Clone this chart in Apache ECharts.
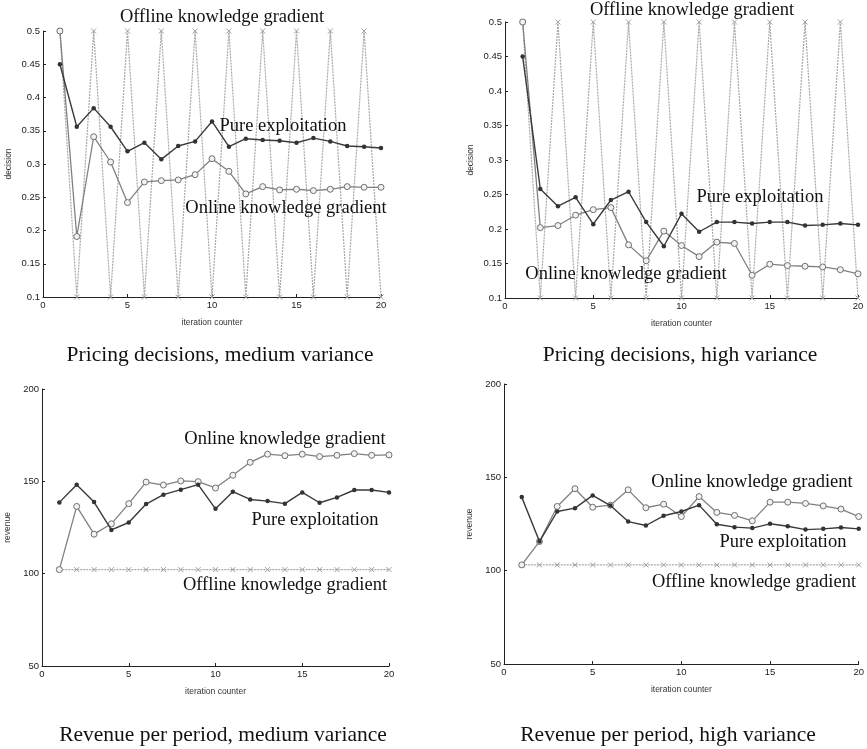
<!DOCTYPE html>
<html>
<head>
<meta charset="utf-8">
<script src="https://cdn.jsdelivr.net/npm/echarts@6/dist/echarts.min.js"></script>
<style>
  html, body { margin: 0; padding: 0; background: #fff; }
  #chart { width: 867px; height: 749px; }
</style>
</head>
<body>
<div id="chart"></div>
<script>
// Iteration counter values shared by every panel
const iterations = [1,2,3,4,5,6,7,8,9,10,11,12,13,14,15,16,17,18,19,20];

// Pricing decisions, medium variance
const priceMedPure    = [0.45,0.356,0.384,0.356,0.319,0.332,0.307,0.327,0.334,0.364,0.326,0.338,0.336,0.335,0.332,0.339,0.334,0.327,0.326,0.324];
const priceMedOnline  = [0.5,0.191,0.341,0.303,0.242,0.273,0.275,0.276,0.284,0.308,0.289,0.255,0.266,0.261,0.262,0.26,0.262,0.266,0.265,0.265];
const priceMedOffline = [0.5,0.1,0.5,0.1,0.5,0.1,0.5,0.1,0.5,0.1,0.5,0.1,0.5,0.1,0.5,0.1,0.5,0.1,0.5,0.1];

// Pricing decisions, high variance
const priceHighPure    = [0.45,0.258,0.233,0.246,0.207,0.242,0.254,0.21,0.175,0.222,0.196,0.21,0.21,0.208,0.21,0.21,0.205,0.206,0.208,0.206];
const priceHighOnline  = [0.5,0.202,0.205,0.22,0.228,0.231,0.177,0.154,0.197,0.176,0.16,0.181,0.179,0.133,0.149,0.147,0.146,0.145,0.141,0.135];
const priceHighOffline = [0.5,0.1,0.5,0.1,0.5,0.1,0.5,0.1,0.5,0.1,0.5,0.1,0.5,0.1,0.5,0.1,0.5,0.1,0.5,0.1];

// Revenue per period, medium variance
const revMedPure    = [138.6,148.2,138.8,123.7,127.7,137.7,142.8,145.5,148.2,135.1,144.4,140.2,139.3,137.9,144,138.4,141.3,145.3,145.3,144];
const revMedOnline  = [102.2,136.4,121.4,127,137.9,149.6,148,150.2,149.8,146.4,153.3,160.3,164.7,163.9,164.7,163.4,164.1,165,164.1,164.3];
const revMedOffline = [102.2,102.2,102.2,102.2,102.2,102.2,102.2,102.2,102.2,102.2,102.2,102.2,102.2,102.2,102.2,102.2,102.2,102.2,102.2,102.2];

// Revenue per period, high variance
const revHighPure    = [139.4,115.6,131.7,133.5,140.3,134.9,126.3,124.2,129.4,131.7,135.1,124.9,123.3,122.8,125.1,123.8,122,122.4,123.1,122.4];
const revHighOnline  = [103.1,115.6,134.4,143.9,134,135.1,143.3,133.7,135.6,129,139.7,131.2,129.6,126.7,136.7,136.7,136,134.7,133,129];
const revHighOffline = [103.1,103.1,103.1,103.1,103.1,103.1,103.1,103.1,103.1,103.1,103.1,103.1,103.1,103.1,103.1,103.1,103.1,103.1,103.1,103.1];

// Axis ranges and tick steps
const xTicks = { min: 0, max: 20, interval: 5 };
const decisionTicks = { min: 0.1, max: 0.5, interval: 0.05 };
const revenueTicks = { min: 50, max: 200, interval: 50 };

const SERIF = '"Liberation Serif", "Times New Roman", serif';
const SANS = '"Liberation Sans Narrow", "Liberation Sans", Arial, sans-serif';

const pairs = (ys) => iterations.map((x, i) => [x, ys[i]]);

const grids = [
  { left: 43, top: 31, width: 338, height: 266 },
  { left: 505, top: 22, width: 353, height: 276 },
  { left: 42, top: 389, width: 347, height: 277 },
  { left: 504, top: 384, width: 356, height: 280 }
];

function xAxis(gi) {
  return {
    type: 'value', gridIndex: gi, min: xTicks.min, max: xTicks.max, interval: xTicks.interval,
    name: 'iteration counter', nameLocation: 'middle', nameGap: 21,
    nameTextStyle: { fontFamily: SANS, fontSize: 8.5, color: '#333' },
    axisLine: { lineStyle: { color: '#222', width: 1 } },
    axisTick: { inside: true, length: 3, lineStyle: { color: '#222' } },
    axisLabel: { fontFamily: SANS, fontSize: 9.5, color: '#222', margin: 3 },
    splitLine: { show: false }
  };
}
function yAxis(gi, ticks, name, fmt) {
  return {
    type: 'value', gridIndex: gi, min: ticks.min, max: ticks.max, interval: ticks.interval,
    name: name, nameLocation: 'middle', nameGap: 30,
    nameTextStyle: { fontFamily: SANS, fontSize: 8.5, color: '#333' },
    axisLine: { show: true, lineStyle: { color: '#222', width: 1 } },
    axisTick: { show: true, inside: true, length: 3, lineStyle: { color: '#222' } },
    axisLabel: { fontFamily: SANS, fontSize: 9.5, color: '#222', margin: 3, formatter: fmt },
    splitLine: { show: false }
  };
}

const xMark = 'path://M0,0L10,10M10,0L0,10';

function offlineSeries(gi, ys) {
  return {
    type: 'line', xAxisIndex: gi, yAxisIndex: gi, data: pairs(ys), z: 1,
    symbol: xMark, symbolSize: 5, showSymbol: true,
    lineStyle: { color: '#a8a8a8', width: 1.2, type: [2, 1] },
    itemStyle: { color: 'none', borderColor: '#a0a0a0', borderWidth: 1 },
    animation: false, silent: true
  };
}
function onlineSeries(gi, ys) {
  return {
    type: 'line', xAxisIndex: gi, yAxisIndex: gi, data: pairs(ys), z: 2,
    symbol: 'circle', symbolSize: 6, showSymbol: true,
    lineStyle: { color: '#808080', width: 1.3 },
    itemStyle: { color: '#f2f2f2', borderColor: '#707070', borderWidth: 1 },
    animation: false, silent: true
  };
}
function pureSeries(gi, ys) {
  return {
    type: 'line', xAxisIndex: gi, yAxisIndex: gi, data: pairs(ys), z: 3,
    symbol: 'circle', symbolSize: 4.5, showSymbol: true,
    lineStyle: { color: '#3a3a3a', width: 1.4 },
    itemStyle: { color: '#333', borderColor: '#333', borderWidth: 0 },
    animation: false, silent: true
  };
}

function label(text, x, y, size) {
  return {
    type: 'text', left: 'auto', x: x, y: y, z: 10,
    style: { text: text, fontFamily: SERIF, fontSize: size, fill: '#111',
             textAlign: 'center', textVerticalAlign: 'middle' }
  };
}

const decFmt = (v) => String(+v.toFixed(2));
const revFmt = (v) => String(Math.round(v));

const option = {
  backgroundColor: '#fff',
  animation: false,
  grid: grids,
  xAxis: [xAxis(0), xAxis(1), xAxis(2), xAxis(3)],
  yAxis: [
    yAxis(0, decisionTicks, 'decision', decFmt),
    yAxis(1, decisionTicks, 'decision', decFmt),
    yAxis(2, revenueTicks, 'revenue', revFmt),
    yAxis(3, revenueTicks, 'revenue', revFmt)
  ],
  series: [
    offlineSeries(0, priceMedOffline), onlineSeries(0, priceMedOnline), pureSeries(0, priceMedPure),
    offlineSeries(1, priceHighOffline), onlineSeries(1, priceHighOnline), pureSeries(1, priceHighPure),
    offlineSeries(2, revMedOffline), onlineSeries(2, revMedOnline), pureSeries(2, revMedPure),
    offlineSeries(3, revHighOffline), onlineSeries(3, revHighOnline), pureSeries(3, revHighPure)
  ],
  graphic: [
    // curve annotations
    label('Offline knowledge gradient', 222, 17, 18.5),
    label('Pure exploitation', 283, 126, 18.5),
    label('Online knowledge gradient', 286, 208, 18.5),
    label('Offline knowledge gradient', 692, 10, 18.5),
    label('Pure exploitation', 760, 197, 18.5),
    label('Online knowledge gradient', 626, 274, 18.5),
    label('Online knowledge gradient', 285, 439, 18.5),
    label('Pure exploitation', 315, 520, 18.5),
    label('Offline knowledge gradient', 285, 585, 18.5),
    label('Online knowledge gradient', 752, 482, 18.5),
    label('Pure exploitation', 783, 542, 18.5),
    label('Offline knowledge gradient', 754, 582, 18.5),
    // panel captions
    label('Pricing decisions, medium variance', 220, 355, 21.5),
    label('Pricing decisions, high variance', 680, 355, 21.5),
    label('Revenue per period, medium variance', 223, 735, 21.5),
    label('Revenue per period, high variance', 668, 735, 21.5)
  ]
};

const chart = echarts.init(document.getElementById('chart'), null, { renderer: 'canvas' });
chart.setOption(option);
</script>
</body>
</html>
